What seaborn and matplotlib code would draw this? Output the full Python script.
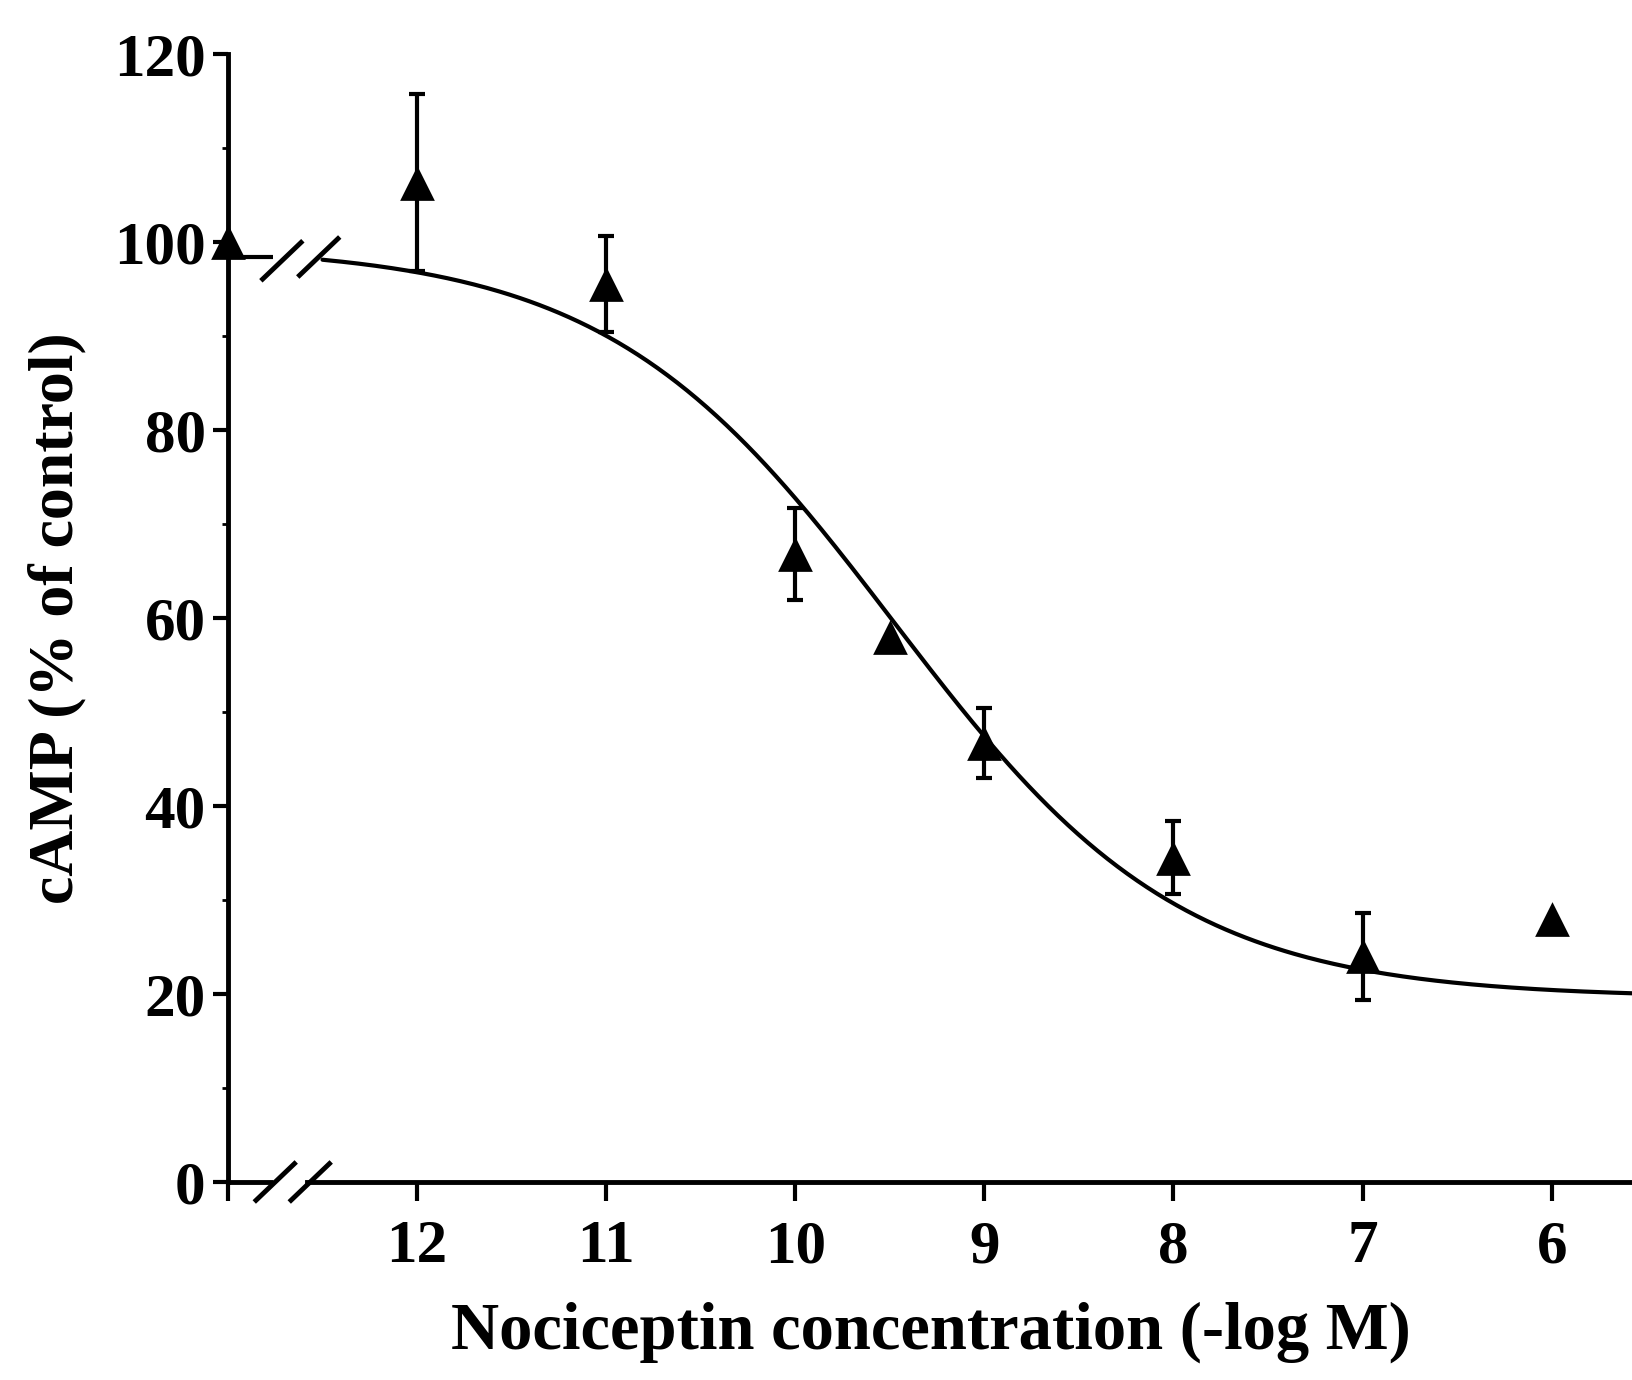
import numpy as np
import pandas as pd
import matplotlib
matplotlib.use("Agg")
import matplotlib.pyplot as plt
import seaborn as sns

# Nociceptin concentration (-log M); 13 stands for the untreated control
conc = [13, 12, 11, 10, 9.5, 9, 8, 7, 6]
camp_mean = [100, 106.3, 95.5, 66.8, 58.0, 46.7, 34.5, 24.0, 28.0]
camp_sem = [0, 9.4, 5.1, 4.9, 0, 3.7, 3.9, 4.6, 0]

x_ticks = [13, 12, 11, 10, 9, 8, 7, 6]
x_ticklabels = ["", "12", "11", "10", "9", "8", "7", "6"]
y_ticks = [0, 20, 40, 60, 80, 100, 120]

# Four-parameter logistic fit of the concentration-response curve
fit_top, fit_bottom, fit_pic50, fit_hill = 99.6, 19.6, 9.48, 0.57
control_level = 98.4

sns.set_theme(style="ticks")
plt.rcParams["font.family"] = ["Liberation Serif", "DejaVu Serif"]
plt.rcParams["font.weight"] = "bold"

fig = plt.figure(figsize=(16.33, 13.80), dpi=100)
ax = fig.add_axes([0.1396, 0.1435, 1 - 0.1396, 0.9609 - 0.1435])

x_lo, x_hi = 13.0, 5.57
ax.set_xlim(x_lo, x_hi)
ax.set_ylim(0, 120)

# fitted curve (drawn after the axis break)
xs = np.linspace(12.5, x_hi, 400)
ys = fit_bottom + (fit_top - fit_bottom) / (1 + 10 ** (fit_hill * (fit_pic50 - xs)))
curve = pd.DataFrame({"x": xs, "y": ys})
sns.lineplot(data=curve, x="x", y="y", ax=ax, color="black", lw=3.0,
             sort=False, estimator=None, clip_on=False)

# control plateau before the break
ax.plot([x_lo, 12.76], [control_level, control_level], color="black", lw=3.0,
        solid_capstyle="butt", clip_on=False)

pts = pd.DataFrame({"conc": conc, "mean": camp_mean, "sem": camp_sem})
err = pts[pts["sem"] > 0]
ax.errorbar(err["conc"], err["mean"], yerr=err["sem"], fmt="none",
            ecolor="black", elinewidth=3.0, capsize=5.5, capthick=3.0,
            clip_on=False, zorder=3)
sns.scatterplot(data=pts, x="conc", y="mean", ax=ax, marker="^", s=25 ** 2,
                color="black", linewidth=0, clip_on=False, zorder=4,
                legend=False)

# axes styling
for side in ["top", "right"]:
    ax.spines[side].set_visible(False)
for side in ["left", "bottom"]:
    ax.spines[side].set_linewidth(3.5)
    ax.spines[side].set_color("black")
ax.spines["bottom"].set_bounds(12.58, x_hi)
ax.plot([x_lo, 12.76], [0, 0], color="black", lw=3.5,
        solid_capstyle="butt", clip_on=False)

# axis-break slashes (x axis is reversed, so larger x sits further left)
def slash(xc, yc, dx=0.111, dy=2.13):
    ax.plot([xc + dx, xc - dx], [yc - dy, yc + dy], color="black", lw=3.5,
            solid_capstyle="butt", clip_on=False)

slash(12.75, 0)
slash(12.565, 0)
slash(12.715, 98.0)
slash(12.52, 98.4)

ax.set_xticks(x_ticks)
ax.set_xticklabels(x_ticklabels)
ax.set_yticks(y_ticks)
ax.set_yticks(np.arange(10, 120, 20), minor=True)
ax.tick_params(axis="x", which="major", direction="out", length=14, width=3,
               pad=13, labelsize=44, color="black", labelcolor="black")
ax.tick_params(axis="y", which="major", direction="out", length=11, width=3,
               pad=5, labelsize=44, color="black", labelcolor="black")
ax.tick_params(axis="y", which="minor", direction="out", length=4, width=2,
               color="black")
for lab in ax.get_xticklabels() + ax.get_yticklabels():
    lab.set_fontweight("bold")

ax.set_xlabel("Nociceptin concentration (-log M)", fontsize=48,
              fontweight="bold", labelpad=19, color="black")
ax.set_ylabel("cAMP (% of control)", fontsize=46, fontweight="bold",
              labelpad=20, color="black")
ax.set_facecolor("white")
fig.patch.set_facecolor("white")

fig.savefig("out.png", dpi=100, facecolor="white")
